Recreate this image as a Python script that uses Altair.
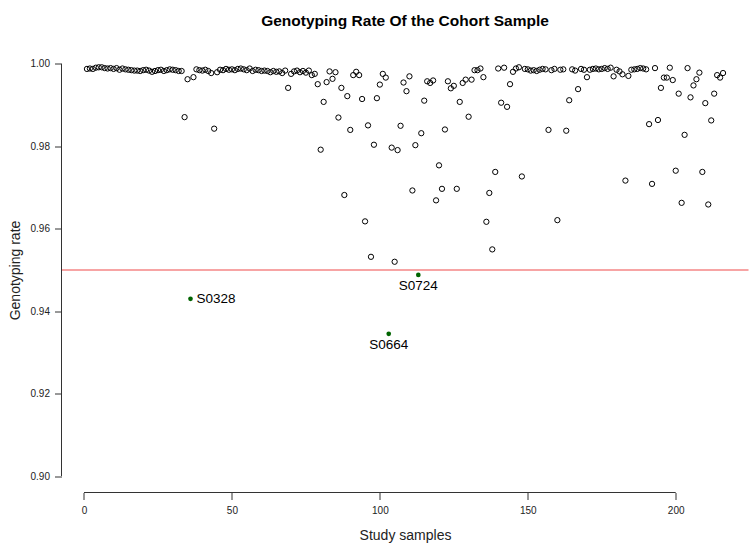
import altair as alt
import pandas as pd

# Genotyping rate per study sample (sample index 1..216)
sample_idx = list(range(1, 217))
rates = [
    # 1-10
    0.9988, 0.9989, 0.9988, 0.9991, 0.9992, 0.9992, 0.9990, 0.9989, 0.9990, 0.9988,
    # 11-20
    0.9990, 0.9986, 0.9989, 0.9987, 0.9986, 0.9985, 0.9984, 0.9984, 0.9983, 0.9985,
    # 21-30
    0.9986, 0.9984, 0.9981, 0.9983, 0.9985, 0.9986, 0.9983, 0.9985, 0.9987, 0.9986,
    # 31-40
    0.9985, 0.9983, 0.9983, 0.9871, 0.9963, 0.9430, 0.9968, 0.9987, 0.9985, 0.9984,
    # 41-50
    0.9986, 0.9983, 0.9978, 0.9843, 0.9980, 0.9986, 0.9985, 0.9988, 0.9986, 0.9987,
    # 51-60
    0.9985, 0.9988, 0.9989, 0.9987, 0.9985, 0.9989, 0.9983, 0.9986, 0.9985, 0.9983,
    # 61-70
    0.9984, 0.9983, 0.9980, 0.9983, 0.9981, 0.9982, 0.9978, 0.9984, 0.9942, 0.9976,
    # 71-80
    0.9982, 0.9984, 0.9980, 0.9983, 0.9979, 0.9984, 0.9973, 0.9976, 0.9951, 0.9792,
    # 81-90
    0.9908, 0.9956, 0.9982, 0.9964, 0.9980, 0.9870, 0.9942, 0.9682, 0.9922, 0.9840,
    # 91-100
    0.9973, 0.9981, 0.9973, 0.9915, 0.9618, 0.9851, 0.9532, 0.9804, 0.9917, 0.9950,
    # 101-110
    0.9976, 0.9967, 0.9345, 0.9797, 0.9520, 0.9791, 0.9850, 0.9955, 0.9934, 0.9970,
    # 111-120
    0.9693, 0.9803, 0.9488, 0.9832, 0.9911, 0.9958, 0.9954, 0.9960, 0.9669, 0.9754,
    # 121-130
    0.9697, 0.9841, 0.9958, 0.9941, 0.9947, 0.9697, 0.9908, 0.9954, 0.9962, 0.9872,
    # 131-140
    0.9962, 0.9985, 0.9985, 0.9989, 0.9968, 0.9617, 0.9687, 0.9550, 0.9738, 0.9989,
    # 141-150
    0.9906, 0.9991, 0.9896, 0.9951, 0.9981, 0.9989, 0.9992, 0.9727, 0.9988, 0.9987,
    # 151-160
    0.9984, 0.9985, 0.9983, 0.9986, 0.9988, 0.9987, 0.9840, 0.9985, 0.9988, 0.9621,
    # 161-170
    0.9986, 0.9987, 0.9838, 0.9912, 0.9987, 0.9984, 0.9939, 0.9988, 0.9986, 0.9968,
    # 171-180
    0.9986, 0.9988, 0.9989, 0.9987, 0.9988, 0.9990, 0.9988, 0.9991, 0.9970, 0.9986,
    # 181-190
    0.9982, 0.9975, 0.9717, 0.9971, 0.9986, 0.9987, 0.9988, 0.9990, 0.9989, 0.9987,
    # 191-200
    0.9854, 0.9709, 0.9990, 0.9864, 0.9942, 0.9967, 0.9967, 0.9991, 0.9961, 0.9741,
    # 201-210
    0.9928, 0.9663, 0.9828, 0.9990, 0.9919, 0.9948, 0.9963, 0.9979, 0.9738, 0.9905,
    # 211-216
    0.9659, 0.9863, 0.9928, 0.9973, 0.9967, 0.9978,
]

# Samples below the 0.95 threshold
hl_names = ["S0328", "S0664", "S0724"]
hl_idx = [36, 103, 113]
hl_pos = ["right", "below", "below"]
threshold = [0.95]

x_ticks = [0, 50, 100, 150, 200]
y_ticks = [0.90, 0.92, 0.94, 0.96, 0.98, 1.00]

df = pd.DataFrame({"idx": sample_idx, "rate": rates})
low = df[df["idx"].isin(hl_idx)].copy()
low["name"] = [hl_names[hl_idx.index(i)] for i in low["idx"]]
low["pos"] = [hl_pos[hl_idx.index(i)] for i in low["idx"]]
ok = df[~df["idx"].isin(hl_idx)]

FONT = "Liberation Sans"
W, H = 687, 445

xscale = alt.Scale(domain=[-7.6, 224.6], nice=False, zero=False)
yscale = alt.Scale(domain=[0.896, 1.004], nice=False, zero=False)

xaxis = alt.Axis(values=x_ticks, domain=False, grid=False, tickSize=7, tickColor="#333",
                 labelFontSize=10, labelFont=FONT, labelColor="#222", labelPadding=6,
                 title="Study samples", titleFont=FONT, titleFontSize=14,
                 titleFontWeight="normal", titleColor="#222", titlePadding=13, format="d")
yaxis = alt.Axis(values=y_ticks, domain=False, grid=False, tickSize=7, tickColor="#333",
                 labelFontSize=10, labelFont=FONT, labelColor="#222", labelPadding=5,
                 format=".2f", title="Genotyping rate", titleFont=FONT, titleFontSize=14,
                 titleFontWeight="normal", titleColor="#222", titlePadding=8)

base_x = alt.X("idx:Q", scale=xscale, axis=xaxis)
base_y = alt.Y("rate:Q", scale=yscale, axis=yaxis)

points = alt.Chart(ok).mark_point(shape="circle", filled=False, color="black",
                                  size=28, strokeWidth=1, opacity=1).encode(x=base_x, y=base_y)

low_pts = alt.Chart(low).mark_circle(color="#006400", size=22, opacity=1).encode(x="idx:Q", y="rate:Q")

lab_right = alt.Chart(low[low["pos"] == "right"]).mark_text(
    align="left", baseline="middle", dx=6, font=FONT, fontSize=13.5, color="black"
).encode(x="idx:Q", y="rate:Q", text="name:N")
lab_below = alt.Chart(low[low["pos"] == "below"]).mark_text(
    align="center", baseline="top", dy=4, font=FONT, fontSize=13.5, color="black"
).encode(x="idx:Q", y="rate:Q", text="name:N")

thr = alt.Chart(pd.DataFrame({"t": threshold})).mark_rule(color="#f04a4a", strokeWidth=1.2).encode(y="t:Q")

xline = alt.Chart(pd.DataFrame({"a": [x_ticks[0]], "b": [x_ticks[-1]]})).mark_rule(
    color="#333", strokeWidth=1).encode(x="a:Q", x2="b:Q", y=alt.value(H))
yline = alt.Chart(pd.DataFrame({"a": [y_ticks[0]], "b": [y_ticks[-1]]})).mark_rule(
    color="#333", strokeWidth=1).encode(y="a:Q", y2="b:Q", x=alt.value(0))

chart = alt.layer(points, thr, xline, yline, low_pts, lab_right, lab_below).properties(
    width=W, height=H,
    title=alt.TitleParams("Genotyping Rate Of the Cohort Sample", font=FONT, fontSize=15.5,
                          fontWeight="bold", anchor="middle", frame="group", offset=18,
                          color="black"),
    autosize=alt.AutoSizeParams(type="none"),
    padding={"left": 61.5, "top": 47.5, "right": 1.5, "bottom": 50.5},
).configure(background="white").configure_view(strokeWidth=0, stroke="transparent")

chart.save("out.html", embed_options={"renderer": "svg", "actions": False})
